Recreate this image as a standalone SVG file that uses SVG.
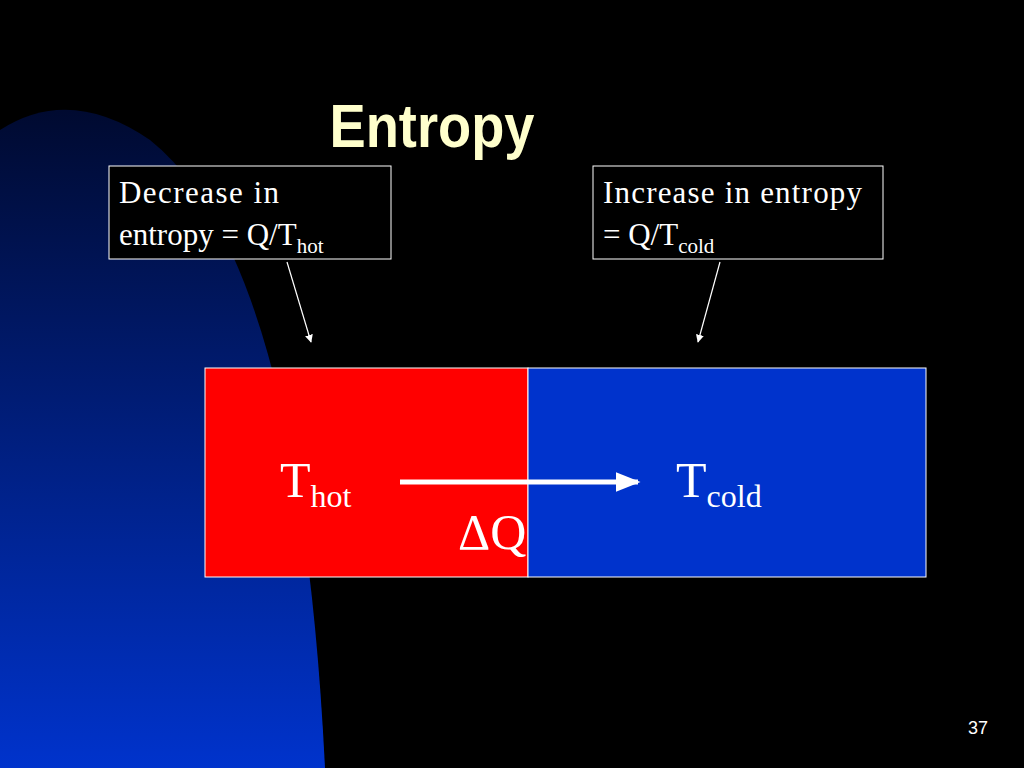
<svg xmlns="http://www.w3.org/2000/svg" width="1024" height="768" viewBox="0 0 1024 768">
<defs>
<linearGradient id="bg" x1="0" y1="0" x2="0" y2="1"><stop offset="0" stop-color="#000a30"/><stop offset="1" stop-color="#0033cc"/></linearGradient>
<marker id="ah" viewBox="0 0 10 10" refX="9" refY="5" markerWidth="8" markerHeight="8" markerUnits="userSpaceOnUse" orient="auto"><path d="M0,0 L10,5 L0,10 Z" fill="#fff"/></marker>
<marker id="ah2" viewBox="0 0 10 10" refX="9" refY="5" markerWidth="5" markerHeight="5" orient="auto"><path d="M0,1 L10,5 L0,9 Z" fill="#fff"/></marker>
</defs>
<style>.t{font-family:"Liberation Serif",serif;fill:#fff}.box{fill:#000;stroke:#fff;stroke-width:1}</style>
<rect width="1024" height="768" fill="#000"/>
<path d="M0,130 Q70,85 150,140 Q300,260 325,768 L0,768 Z" fill="url(#bg)"/>
<text x="432" y="147" text-anchor="middle" font-family="Liberation Sans,sans-serif" font-weight="bold" font-size="62" fill="#ffffcc" textLength="205" lengthAdjust="spacingAndGlyphs">Entropy</text>
<g id="left"><rect class="box" x="109" y="166" width="282" height="93"/>
<text class="t" font-size="31" x="119" y="203" textLength="160">Decrease in</text>
<text class="t" font-size="31" x="119" y="245">entropy = Q/T<tspan font-size="21" dy="8">hot</tspan></text></g>
<g id="right"><rect class="box" x="593" y="166" width="290" height="93"/>
<text class="t" font-size="31" x="603" y="203" textLength="259">Increase in entropy</text>
<text class="t" font-size="31" x="603" y="245">= Q/T<tspan font-size="21" dy="8">cold</tspan></text></g>
<g id="hot"><rect x="205" y="368" width="323" height="209" fill="#ff0000" stroke="#fff"/>
<text class="t" font-size="50" x="280" y="497">T<tspan font-size="32" dy="10">hot</tspan></text></g>
<g id="cold"><rect x="528" y="368" width="398" height="209" fill="#0033cc" stroke="#fff"/>
<text class="t" font-size="50" x="676" y="497">T<tspan font-size="32" dy="10">cold</tspan></text></g>
<g id="connectors" stroke="#fff" fill="none">
<line x1="287" y1="262" x2="311" y2="342" stroke-width="1.2" marker-end="url(#ah)"/>
<line x1="720" y1="262" x2="698" y2="342" stroke-width="1.2" marker-end="url(#ah)"/>
<line x1="400" y1="482" x2="638" y2="482" stroke-width="5" marker-end="url(#ah2)"/>
</g>
<text class="t" font-size="50" x="458" y="549">ΔQ</text>
<text x="978" y="734" font-family="Liberation Sans,sans-serif" font-size="18" fill="#fff" text-anchor="middle">37</text>
</svg>
